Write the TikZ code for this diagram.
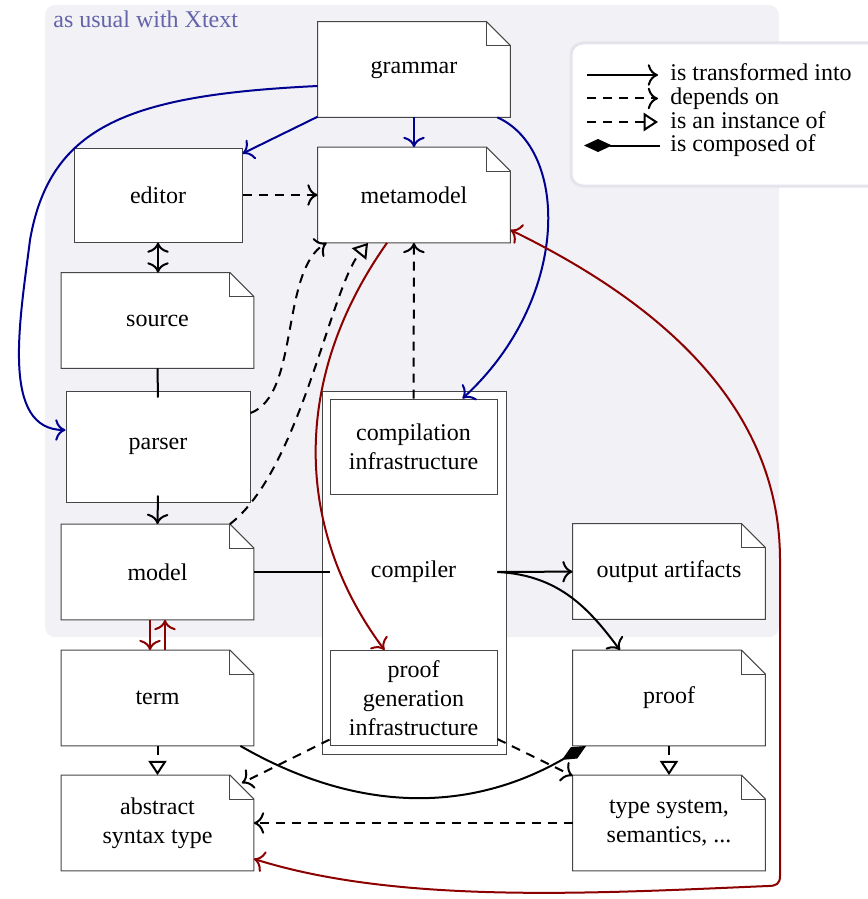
\documentclass[tikz,border=0pt]{standalone}
\usepackage{fontspec}
\setmainfont{Liberation Serif}
\usetikzlibrary{arrows.meta}
\pgfdeclarelayer{bg}
\pgfdeclarelayer{paper}
\pgfsetlayers{bg,paper,main}

\definecolor{regionfill}{RGB}{241,241,246}
\definecolor{xtext}{RGB}{100,100,170}
\definecolor{navy}{RGB}{0,0,145}
\definecolor{maroon}{RGB}{140,0,0}
\definecolor{frame}{RGB}{70,70,70}
\definecolor{legendrim}{RGB}{228,228,236}

\tikzset{
  base/.style={inner sep=0pt, align=center, font=\fontsize{12}{14.5}\selectfont},
  box/.style={base, draw=frame, fill=white, line width=0.5pt},
  doc/.style={base, minimum width=96pt, minimum height=47.5pt},
  docface/.style={draw=frame, fill=white, line width=0.5pt},
  wire/.style={line width=1pt},
  flow/.style={wire, ->},
  dashline/.style={wire, dash pattern=on 4.5pt off 3.5pt},
  dep/.style={dashline, ->},
  inst/.style={dashline, -{Triangle[open,length=5.5pt,width=7pt,scale=1.3]}},
  part/.style={wire, {Diamond[length=14pt,width=6.5pt]}-},
}

\begin{document}
\begin{tikzpicture}[x=0.5pt, y=-0.5pt,
  >={Computer Modern Rightarrow[scale=1.35]}]
\useasboundingbox (0,0) rectangle (867,899);

% shaded Xtext region and legend frame
\begin{pgfonlayer}{bg}
  \fill[regionfill, rounded corners=5pt] (45,5) rectangle (779,637);
  \draw[legendrim, fill=white, line width=1.5pt, rounded corners=6pt] (571,43) rectangle (895,186);
\end{pgfonlayer}
\node[base, text=xtext, anchor=base west] (xtextlabel) at (53,28) {as usual with Xtext};

% nodes
\node[doc] (grammar) at (414,69.5) {grammar};
\node[box, minimum width=84pt, minimum height=47pt] (editor) at (158,195) {editor};
\node[doc] (metamodel) at (414,195) {metamodel};
\node[doc] (source) at (157.5,320.5) {source};
\node[box, minimum width=92pt, minimum height=55.5pt] (parser) at (158,446.5) {parser};
\node[doc] (model) at (157.5,572) {model};
\node[box, minimum width=92pt, minimum height=181.5pt] (compbox) at (414,572.5) {};
\node[box, minimum width=83.5pt, minimum height=47.5pt] (compinf) at (413.5,446.5) {compilation\\infrastructure};
\node[base, minimum width=83.5pt] (compiler) at (413.5,572) {compiler};
\node[box, minimum width=83.5pt, minimum height=47.5pt] (pgi) at (413.5,698) {proof\\generation\\infrastructure};
\node[doc] (output) at (669,571.5) {output artifacts};
\node[doc] (term) at (157.5,698) {term};
\node[doc] (proof) at (669,698) {proof};
\node[doc] (ast) at (157.5,823) {abstract\\syntax type};
\node[doc] (typesys) at (669,823) {type system,\\semantics, ...};

% document outlines with folded corner
\begin{pgfonlayer}{paper}
\foreach \n in {grammar,metamodel,source,model,output,term,proof,ast,typesys}{
  \draw[docface] (\n.north west) -- ([xshift=-12pt]\n.north east) -- ([yshift=-12pt]\n.north east)
     -- (\n.south east) -- (\n.south west) -- cycle;
  \draw[docface, fill=none] ([xshift=-12pt]\n.north east) |- ([yshift=-12pt]\n.north east);
}
\end{pgfonlayer}

% legend
\coordinate (k1a) at (587,75);    \coordinate (k1b) at (658,75);
\coordinate (k2a) at (587,98.5);  \coordinate (k2b) at (658,98.5);
\coordinate (k3a) at (587,122);   \coordinate (k3b) at (658,122);
\coordinate (k4a) at (584,145.5); \coordinate (k4b) at (660,145.5);
\draw[flow] (k1a) -- (k1b);
\draw[dep] (k2a) -- (k2b);
\draw[inst] (k3a) -- (k3b);
\draw[part] (k4a) -- (k4b);
\node[base, anchor=base west] (k1) at (670,81) {is transformed into};
\node[base, anchor=base west] (k2) at (670,104.5) {depends on};
\node[base, anchor=base west] (k3) at (670,128) {is an instance of};
\node[base, anchor=base west] (k4) at (670,151.5) {is composed of};

% grammar generates the Xtext artefacts
\draw[flow, navy] (grammar) -- (editor);
\draw[flow, navy] (grammar) -- (metamodel);
\draw[flow, navy] ([yshift=-8.25pt]grammar.west) .. controls (130,95) and (50,125) .. (30,240)
   .. controls (20,320) and (0,430) .. ([yshift=8.25pt]parser.west);
\draw[flow, navy] ([xshift=-6.5pt]grammar.south east) .. controls (570,150) and (570,300)
   .. ([xshift=-17.5pt]compinf.north east);

% Xtext pipeline
\draw[dep] (editor) -- (metamodel);
\draw[wire, <->] (editor.south) -- (editor.south |- source.north);
\draw[wire] (source.south) -- ([yshift=-3.5pt]parser.north);
\draw[flow] ([yshift=3.5pt]parser.south) -- (model.north);
\draw[dep] ([yshift=16.75pt]parser.east) .. controls (300,395) and (280,270) .. ([xshift=4.5pt]metamodel.south west);
\draw[inst] ([xshift=-12pt]model.north east) .. controls (300,470) and (330,290) .. ([xshift=-23pt]metamodel.south);
\draw[dep] (compinf) -- (metamodel);

% compiler
\draw[wire] (model) -- (compiler);
\draw[flow] (compiler) -- (output);
\draw[flow] (compiler.east) .. controls (560,575) and (590,610) .. ([xshift=-24.5pt]proof.north);
\draw[flow, maroon] ([xshift=-13.5pt]metamodel.south) .. controls (290,380) and (295,530) .. ([xshift=-14.5pt]pgi.north);

% model and term
\draw[flow, maroon] ([xshift=-3.75pt]model.south) -- ([xshift=-3.75pt]term.north);
\draw[flow, maroon] ([xshift=3.75pt]term.north) -- ([xshift=3.75pt]model.south);

% proof side
\draw[inst] (term) -- (ast);
\draw[inst] (proof) -- (typesys);
\draw[dep] (typesys) -- (ast);
\draw[dep] (pgi) -- ([xshift=-6pt,yshift=-4pt]ast.north east);
\draw[dep] (pgi) -- (typesys);
\draw[part] (proof) to[bend left=30] (term);

% metamodel and abstract syntax type correspond
\draw[flow, maroon, <->] ([yshift=6.5pt]metamodel.south east) .. controls (650,298) and (780,400) .. (780,560)
   -- (780,876) .. controls (780,884) and (776,886) .. (768,886)
   .. controls (600,893) and (400,905) .. ([yshift=6pt]ast.south east);
\end{tikzpicture}
\end{document}
